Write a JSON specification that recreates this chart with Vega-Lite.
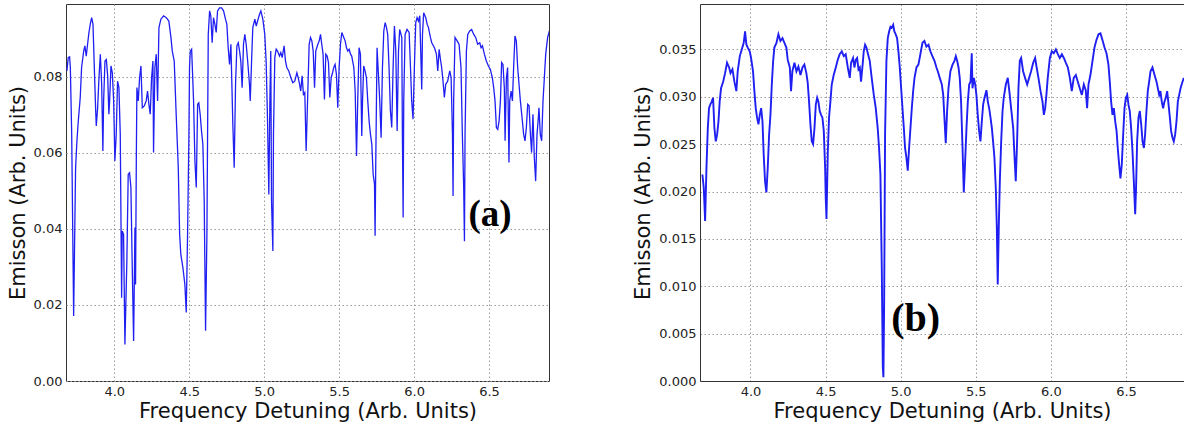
{
  "$schema": "https://vega.github.io/schema/vega-lite/v6.json",
  "background": "white",
  "padding": {"left": 6, "top": 3, "right": 0, "bottom": 0},
  "spacing": 82,
  "config": {
    "view": {"stroke": "#333", "strokeWidth": 1},
    "axis": {"labelFont": "DejaVu Sans", "labelFontSize": 13, "labelColor": "#222", "titleFont": "DejaVu Sans", "titleFontSize": 21, "titleFontWeight": "normal", "titleColor": "#111", "tickSize": 0, "labelPadding": 4, "grid": true, "gridColor": "#9a9a9a", "gridDash": [1.5, 2.5], "gridWidth": 1, "domain": false},
    "axisX": {"titlePadding": 2},
    "axisY": {"titlePadding": 5}
  },
  "datasets": {
    "a": [
{"f":3.684,"e":0.0816},{"f":3.693,"e":0.0851},{"f":3.702,"e":0.0853},{"f":3.707,"e":0.0825},{"f":3.716,"e":0.0649},{"f":3.729,"e":0.0171},{"f":3.742,"e":0.0561},{"f":3.751,"e":0.0632},{"f":3.760,"e":0.0684},{"f":3.773,"e":0.0746},{"f":3.782,"e":0.0825},{"f":3.796,"e":0.0868},{"f":3.804,"e":0.0882},{"f":3.813,"e":0.0855},{"f":3.822,"e":0.0886},{"f":3.831,"e":0.0917},{"f":3.840,"e":0.0939},{"f":3.849,"e":0.0956},{"f":3.858,"e":0.0939},{"f":3.867,"e":0.0825},{"f":3.876,"e":0.0711},{"f":3.880,"e":0.0671},{"f":3.889,"e":0.0719},{"f":3.898,"e":0.0798},{"f":3.907,"e":0.0860},{"f":3.916,"e":0.0781},{"f":3.924,"e":0.0605},{"f":3.929,"e":0.0737},{"f":3.938,"e":0.0842},{"f":3.947,"e":0.0846},{"f":3.956,"e":0.0803},{"f":3.964,"e":0.0702},{"f":3.969,"e":0.0737},{"f":3.978,"e":0.0829},{"f":3.987,"e":0.0811},{"f":3.996,"e":0.0737},{"f":4.004,"e":0.0579},{"f":4.013,"e":0.0649},{"f":4.022,"e":0.0789},{"f":4.031,"e":0.0772},{"f":4.040,"e":0.0649},{"f":4.049,"e":0.0219},{"f":4.053,"e":0.0395},{"f":4.062,"e":0.0386},{"f":4.071,"e":0.0096},{"f":4.084,"e":0.0316},{"f":4.093,"e":0.0544},{"f":4.102,"e":0.0548},{"f":4.111,"e":0.0509},{"f":4.120,"e":0.0298},{"f":4.129,"e":0.0105},{"f":4.138,"e":0.0404},{"f":4.142,"e":0.0254},{"f":4.147,"e":0.0579},{"f":4.151,"e":0.0772},{"f":4.160,"e":0.0737},{"f":4.169,"e":0.0798},{"f":4.178,"e":0.0829},{"f":4.187,"e":0.0719},{"f":4.200,"e":0.0724},{"f":4.213,"e":0.0737},{"f":4.222,"e":0.0763},{"f":4.231,"e":0.0728},{"f":4.240,"e":0.0702},{"f":4.249,"e":0.0798},{"f":4.258,"e":0.0842},{"f":4.262,"e":0.0601},{"f":4.271,"e":0.0825},{"f":4.280,"e":0.0860},{"f":4.289,"e":0.0737},{"f":4.298,"e":0.0930},{"f":4.311,"e":0.0952},{"f":4.329,"e":0.0961},{"f":4.347,"e":0.0956},{"f":4.364,"e":0.0947},{"f":4.378,"e":0.0904},{"f":4.387,"e":0.0868},{"f":4.400,"e":0.0842},{"f":4.413,"e":0.0702},{"f":4.427,"e":0.0561},{"f":4.436,"e":0.0386},{"f":4.444,"e":0.0333},{"f":4.458,"e":0.0298},{"f":4.471,"e":0.0254},{"f":4.480,"e":0.0180},{"f":4.489,"e":0.0386},{"f":4.498,"e":0.0649},{"f":4.502,"e":0.0825},{"f":4.507,"e":0.0868},{"f":4.516,"e":0.0873},{"f":4.520,"e":0.0833},{"f":4.529,"e":0.0737},{"f":4.538,"e":0.0579},{"f":4.547,"e":0.0509},{"f":4.556,"e":0.0728},{"f":4.564,"e":0.0732},{"f":4.573,"e":0.0702},{"f":4.582,"e":0.0658},{"f":4.591,"e":0.0623},{"f":4.600,"e":0.0474},{"f":4.609,"e":0.0132},{"f":4.618,"e":0.0386},{"f":4.627,"e":0.0912},{"f":4.636,"e":0.0974},{"f":4.644,"e":0.0961},{"f":4.653,"e":0.0890},{"f":4.662,"e":0.0956},{"f":4.671,"e":0.0939},{"f":4.680,"e":0.0917},{"f":4.689,"e":0.0974},{"f":4.702,"e":0.0982},{"f":4.716,"e":0.0982},{"f":4.729,"e":0.0974},{"f":4.742,"e":0.0952},{"f":4.751,"e":0.0939},{"f":4.760,"e":0.0877},{"f":4.769,"e":0.0833},{"f":4.778,"e":0.0886},{"f":4.791,"e":0.0675},{"f":4.800,"e":0.0561},{"f":4.809,"e":0.0781},{"f":4.818,"e":0.0882},{"f":4.827,"e":0.0890},{"f":4.836,"e":0.0868},{"f":4.844,"e":0.0842},{"f":4.853,"e":0.0772},{"f":4.862,"e":0.0886},{"f":4.871,"e":0.0912},{"f":4.880,"e":0.0886},{"f":4.889,"e":0.0846},{"f":4.902,"e":0.0781},{"f":4.907,"e":0.0737},{"f":4.916,"e":0.0842},{"f":4.924,"e":0.0930},{"f":4.938,"e":0.0952},{"f":4.947,"e":0.0934},{"f":4.956,"e":0.0947},{"f":4.969,"e":0.0965},{"f":4.978,"e":0.0974},{"f":4.991,"e":0.0952},{"f":5.004,"e":0.0912},{"f":5.013,"e":0.0842},{"f":5.022,"e":0.0693},{"f":5.031,"e":0.0491},{"f":5.038,"e":0.0737},{"f":5.044,"e":0.0868},{"f":5.049,"e":0.0474},{"f":5.058,"e":0.0342},{"f":5.062,"e":0.0649},{"f":5.071,"e":0.0851},{"f":5.080,"e":0.0873},{"f":5.089,"e":0.0868},{"f":5.102,"e":0.0855},{"f":5.111,"e":0.0864},{"f":5.120,"e":0.0851},{"f":5.133,"e":0.0882},{"f":5.142,"e":0.0842},{"f":5.151,"e":0.0825},{"f":5.164,"e":0.0816},{"f":5.178,"e":0.0798},{"f":5.191,"e":0.0785},{"f":5.204,"e":0.0789},{"f":5.218,"e":0.0811},{"f":5.227,"e":0.0798},{"f":5.236,"e":0.0781},{"f":5.244,"e":0.0763},{"f":5.253,"e":0.0803},{"f":5.262,"e":0.0754},{"f":5.271,"e":0.0759},{"f":5.280,"e":0.0605},
{"f":5.300,"e":0.0886},{"f":5.309,"e":0.0904},{"f":5.318,"e":0.0895},{"f":5.327,"e":0.0868},{"f":5.336,"e":0.0772},{"f":5.344,"e":0.0868},{"f":5.358,"e":0.0886},{"f":5.367,"e":0.0895},{"f":5.376,"e":0.0912},{"f":5.384,"e":0.0886},{"f":5.393,"e":0.0860},{"f":5.402,"e":0.0741},{"f":5.411,"e":0.0860},{"f":5.420,"e":0.0855},{"f":5.429,"e":0.0838},{"f":5.438,"e":0.0746},{"f":5.447,"e":0.0798},{"f":5.456,"e":0.0811},{"f":5.464,"e":0.0825},{"f":5.473,"e":0.0833},{"f":5.482,"e":0.0807},{"f":5.491,"e":0.0719},{"f":5.500,"e":0.0825},{"f":5.509,"e":0.0886},{"f":5.518,"e":0.0917},{"f":5.531,"e":0.0904},{"f":5.540,"e":0.0895},{"f":5.549,"e":0.0877},{"f":5.558,"e":0.0868},{"f":5.567,"e":0.0873},{"f":5.576,"e":0.0860},{"f":5.584,"e":0.0855},{"f":5.598,"e":0.0825},{"f":5.607,"e":0.0763},{"f":5.616,"e":0.0592},{"f":5.624,"e":0.0737},{"f":5.633,"e":0.0877},{"f":5.642,"e":0.0860},{"f":5.651,"e":0.0645},{"f":5.656,"e":0.0737},{"f":5.664,"e":0.0829},{"f":5.673,"e":0.0816},{"f":5.682,"e":0.0798},{"f":5.691,"e":0.0737},{"f":5.700,"e":0.0684},{"f":5.709,"e":0.0649},{"f":5.718,"e":0.0623},{"f":5.727,"e":0.0544},{"f":5.736,"e":0.0518},{"f":5.740,"e":0.0382},{"f":5.744,"e":0.0561},{"f":5.753,"e":0.0877},{"f":5.762,"e":0.0807},{"f":5.771,"e":0.0737},{"f":5.780,"e":0.0640},{"f":5.789,"e":0.0825},{"f":5.798,"e":0.0921},{"f":5.807,"e":0.0943},{"f":5.816,"e":0.0930},{"f":5.824,"e":0.0912},{"f":5.833,"e":0.0825},{"f":5.842,"e":0.0711},{"f":5.851,"e":0.0667},{"f":5.860,"e":0.0825},{"f":5.869,"e":0.0934},{"f":5.878,"e":0.0868},{"f":5.887,"e":0.0658},{"f":5.896,"e":0.0868},{"f":5.904,"e":0.0925},{"f":5.918,"e":0.0904},{"f":5.922,"e":0.0649},{"f":5.927,"e":0.0430},{"f":5.931,"e":0.0737},{"f":5.940,"e":0.0912},{"f":5.953,"e":0.0925},{"f":5.967,"e":0.0917},{"f":5.976,"e":0.0825},{"f":5.984,"e":0.0737},{"f":5.993,"e":0.0689},{"f":6.002,"e":0.0825},{"f":6.011,"e":0.0943},{"f":6.020,"e":0.0956},{"f":6.029,"e":0.0947},{"f":6.038,"e":0.0961},{"f":6.051,"e":0.0767},{"f":6.056,"e":0.0912},{"f":6.064,"e":0.0969},{"f":6.078,"e":0.0956},{"f":6.087,"e":0.0939},{"f":6.096,"e":0.0930},{"f":6.109,"e":0.0904},{"f":6.118,"e":0.0890},{"f":6.136,"e":0.0877},{"f":6.149,"e":0.0860},{"f":6.158,"e":0.0816},{"f":6.167,"e":0.0873},{"f":6.176,"e":0.0846},{"f":6.184,"e":0.0825},{"f":6.193,"e":0.0789},{"f":6.202,"e":0.0746},{"f":6.211,"e":0.0781},{"f":6.224,"e":0.0789},{"f":6.238,"e":0.0816},{"f":6.247,"e":0.0798},{"f":6.256,"e":0.0649},{"f":6.260,"e":0.0487},{"f":6.264,"e":0.0737},{"f":6.273,"e":0.0904},{"f":6.287,"e":0.0895},{"f":6.300,"e":0.0886},{"f":6.313,"e":0.0825},{"f":6.322,"e":0.0649},{"f":6.331,"e":0.0509},{"f":6.336,"e":0.0368},{"f":6.340,"e":0.0649},{"f":6.349,"e":0.0868},{"f":6.358,"e":0.0912},{"f":6.371,"e":0.0921},{"f":6.384,"e":0.0925},{"f":6.398,"e":0.0912},{"f":6.411,"e":0.0904},{"f":6.424,"e":0.0886},{"f":6.438,"e":0.0890},{"f":6.447,"e":0.0877},{"f":6.456,"e":0.0882},{"f":6.469,"e":0.0860},{"f":6.482,"e":0.0842},{"f":6.496,"e":0.0829},{"f":6.509,"e":0.0820},{"f":6.522,"e":0.0798},{"f":6.531,"e":0.0772},{"f":6.540,"e":0.0737},{"f":6.549,"e":0.0667},{"f":6.558,"e":0.0662},{"f":6.567,"e":0.0684},{"f":6.576,"e":0.0737},{"f":6.584,"e":0.0838},{"f":6.593,"e":0.0833},{"f":6.602,"e":0.0772},{"f":6.607,"e":0.0632},{"f":6.616,"e":0.0798},{"f":6.624,"e":0.0825},{"f":6.633,"e":0.0575},{"f":6.638,"e":0.0737},{"f":6.647,"e":0.0763},{"f":6.656,"e":0.0737},{"f":6.664,"e":0.0825},{"f":6.673,"e":0.0908},{"f":6.682,"e":0.0895},{"f":6.691,"e":0.0825},{"f":6.700,"e":0.0781},{"f":6.709,"e":0.0737},{"f":6.718,"e":0.0702},{"f":6.731,"e":0.0649},{"f":6.740,"e":0.0632},{"f":6.749,"e":0.0667},{"f":6.758,"e":0.0728},{"f":6.767,"e":0.0724},{"f":6.776,"e":0.0649},{"f":6.784,"e":0.0601},{"f":6.793,"e":0.0702},{"f":6.802,"e":0.0588},{"f":6.811,"e":0.0526},{"f":6.820,"e":0.0649},{"f":6.829,"e":0.0693},{"f":6.833,"e":0.0719},{"f":6.842,"e":0.0649},{"f":6.851,"e":0.0632},{"f":6.860,"e":0.0737},{"f":6.869,"e":0.0798},{"f":6.878,"e":0.0860},{"f":6.891,"e":0.0904},{"f":6.909,"e":0.0930}
    ],
    "b": [
{"f":3.680,"e":0.0218},{"f":3.689,"e":0.0204},{"f":3.698,"e":0.0169},{"f":3.707,"e":0.0225},{"f":3.716,"e":0.0267},{"f":3.724,"e":0.0288},{"f":3.733,"e":0.0292},{"f":3.742,"e":0.0295},{"f":3.751,"e":0.0299},{"f":3.760,"e":0.0267},{"f":3.769,"e":0.0253},{"f":3.778,"e":0.0260},{"f":3.787,"e":0.0274},{"f":3.795,"e":0.0295},{"f":3.804,"e":0.0309},{"f":3.818,"e":0.0316},{"f":3.831,"e":0.0325},{"f":3.844,"e":0.0336},{"f":3.858,"e":0.0331},{"f":3.867,"e":0.0325},{"f":3.880,"e":0.0329},{"f":3.893,"e":0.0316},{"f":3.906,"e":0.0306},{"f":3.915,"e":0.0327},{"f":3.929,"e":0.0343},{"f":3.942,"e":0.0350},{"f":3.955,"e":0.0357},{"f":3.964,"e":0.0369},{"f":3.973,"e":0.0355},{"f":3.982,"e":0.0352},{"f":3.995,"e":0.0348},{"f":4.004,"e":0.0341},{"f":4.017,"e":0.0327},{"f":4.026,"e":0.0306},{"f":4.035,"e":0.0288},{"f":4.044,"e":0.0278},{"f":4.053,"e":0.0271},{"f":4.062,"e":0.0281},{"f":4.071,"e":0.0288},{"f":4.080,"e":0.0274},{"f":4.088,"e":0.0239},{"f":4.097,"e":0.0211},{"f":4.106,"e":0.0199},{"f":4.115,"e":0.0225},{"f":4.124,"e":0.0260},{"f":4.133,"e":0.0281},{"f":4.142,"e":0.0313},{"f":4.151,"e":0.0338},{"f":4.159,"e":0.0352},{"f":4.173,"e":0.0357},{"f":4.186,"e":0.0366},{"f":4.199,"e":0.0359},{"f":4.213,"e":0.0362},{"f":4.226,"e":0.0357},{"f":4.239,"e":0.0352},{"f":4.248,"e":0.0339},{"f":4.262,"e":0.0331},{"f":4.270,"e":0.0306},{"f":4.279,"e":0.0327},{"f":4.293,"e":0.0336},{"f":4.306,"e":0.0327},{"f":4.319,"e":0.0332},{"f":4.333,"e":0.0323},{"f":4.346,"e":0.0331},{"f":4.359,"e":0.0334},{"f":4.372,"e":0.0325},{"f":4.381,"e":0.0315},{"f":4.390,"e":0.0295},{"f":4.399,"e":0.0271},{"f":4.408,"e":0.0253},{"f":4.417,"e":0.0250},{"f":4.426,"e":0.0267},{"f":4.435,"e":0.0292},{"f":4.444,"e":0.0299},{"f":4.452,"e":0.0295},{"f":4.461,"e":0.0285},{"f":4.470,"e":0.0281},{"f":4.479,"e":0.0278},{"f":4.488,"e":0.0264},{"f":4.497,"e":0.0225},{"f":4.501,"e":0.0193},{"f":4.506,"e":0.0171},{"f":4.515,"e":0.0243},{"f":4.523,"e":0.0278},{"f":4.532,"e":0.0295},{"f":4.541,"e":0.0313},{"f":4.554,"e":0.0323},{"f":4.568,"e":0.0331},{"f":4.581,"e":0.0339},{"f":4.594,"e":0.0345},{"f":4.608,"e":0.0348},{"f":4.621,"e":0.0343},{"f":4.634,"e":0.0345},{"f":4.648,"e":0.0331},{"f":4.661,"e":0.0320},{"f":4.670,"e":0.0336},{"f":4.683,"e":0.0341},{"f":4.692,"e":0.0331},{"f":4.701,"e":0.0339},{"f":4.710,"e":0.0341},{"f":4.719,"e":0.0329},{"f":4.728,"e":0.0331},{"f":4.736,"e":0.0316},{"f":4.745,"e":0.0331},{"f":4.754,"e":0.0348},{"f":4.763,"e":0.0355},{"f":4.772,"e":0.0352},{"f":4.781,"e":0.0346},{"f":4.794,"e":0.0338},{"f":4.807,"e":0.0320},{"f":4.821,"e":0.0302},{"f":4.834,"e":0.0288},{"f":4.847,"e":0.0267},{"f":4.856,"e":0.0246},{"f":4.865,"e":0.0218},{"f":4.874,"e":0.0120},{"f":4.881,"e":0.0014},{"f":4.885,"e":0.0004},{"f":4.890,"e":0.0084},{"f":4.896,"e":0.0260},{"f":4.905,"e":0.0338},{"f":4.914,"e":0.0362},{"f":4.923,"e":0.0369},{"f":4.932,"e":0.0374},{"f":4.941,"e":0.0373},{"f":4.950,"e":0.0376},{"f":4.958,"e":0.0369},{"f":4.967,"e":0.0366},{"f":4.976,"e":0.0362},{"f":4.985,"e":0.0348},{"f":4.994,"e":0.0331},{"f":5.003,"e":0.0309},{"f":5.012,"e":0.0288},{"f":5.021,"e":0.0267},{"f":5.029,"e":0.0246},{"f":5.038,"e":0.0236},{"f":5.047,"e":0.0222},{"f":5.056,"e":0.0246},{"f":5.065,"e":0.0267},{"f":5.074,"e":0.0288},{"f":5.083,"e":0.0306},{"f":5.092,"e":0.0320},{"f":5.105,"e":0.0331},{"f":5.118,"e":0.0334},{"f":5.131,"e":0.0345},{"f":5.145,"e":0.0357},{"f":5.158,"e":0.0359},{"f":5.171,"e":0.0353},{"f":5.185,"e":0.0355},{"f":5.198,"e":0.0348},{"f":5.211,"e":0.0343},{"f":5.225,"e":0.0338},{"f":5.238,"e":0.0331},
{"f":5.247,"e":0.0327},{"f":5.260,"e":0.0320},{"f":5.274,"e":0.0313},{"f":5.283,"e":0.0302},{"f":5.291,"e":0.0278},{"f":5.300,"e":0.0251},{"f":5.309,"e":0.0285},{"f":5.318,"e":0.0309},{"f":5.331,"e":0.0327},{"f":5.345,"e":0.0334},{"f":5.358,"e":0.0338},{"f":5.367,"e":0.0343},{"f":5.376,"e":0.0338},{"f":5.385,"e":0.0331},{"f":5.393,"e":0.0320},{"f":5.402,"e":0.0295},{"f":5.411,"e":0.0250},{"f":5.420,"e":0.0199},{"f":5.429,"e":0.0232},{"f":5.438,"e":0.0267},{"f":5.447,"e":0.0295},{"f":5.456,"e":0.0313},{"f":5.465,"e":0.0316},{"f":5.473,"e":0.0346},{"f":5.478,"e":0.0309},{"f":5.487,"e":0.0320},{"f":5.496,"e":0.0313},{"f":5.504,"e":0.0302},{"f":5.513,"e":0.0281},{"f":5.522,"e":0.0264},{"f":5.531,"e":0.0253},{"f":5.540,"e":0.0274},{"f":5.549,"e":0.0292},{"f":5.558,"e":0.0299},{"f":5.571,"e":0.0307},{"f":5.580,"e":0.0295},{"f":5.589,"e":0.0288},{"f":5.598,"e":0.0278},{"f":5.607,"e":0.0267},{"f":5.615,"e":0.0253},{"f":5.624,"e":0.0236},{"f":5.633,"e":0.0204},{"f":5.640,"e":0.0162},{"f":5.646,"e":0.0102},{"f":5.653,"e":0.0162},{"f":5.660,"e":0.0211},{"f":5.669,"e":0.0253},{"f":5.678,"e":0.0285},{"f":5.686,"e":0.0299},{"f":5.700,"e":0.0313},{"f":5.713,"e":0.0320},{"f":5.726,"e":0.0302},{"f":5.735,"e":0.0288},{"f":5.749,"e":0.0267},{"f":5.757,"e":0.0239},{"f":5.766,"e":0.0211},{"f":5.775,"e":0.0253},{"f":5.784,"e":0.0309},{"f":5.793,"e":0.0338},{"f":5.802,"e":0.0341},{"f":5.815,"e":0.0327},{"f":5.828,"e":0.0320},{"f":5.842,"e":0.0313},{"f":5.855,"e":0.0320},{"f":5.868,"e":0.0327},{"f":5.882,"e":0.0336},{"f":5.895,"e":0.0341},{"f":5.904,"e":0.0332},{"f":5.917,"e":0.0320},{"f":5.931,"e":0.0306},{"f":5.944,"e":0.0295},{"f":5.953,"e":0.0281},{"f":5.962,"e":0.0288},{"f":5.970,"e":0.0302},{"f":5.979,"e":0.0320},{"f":5.993,"e":0.0341},{"f":6.006,"e":0.0348},{"f":6.019,"e":0.0346},{"f":6.033,"e":0.0350},{"f":6.046,"e":0.0345},{"f":6.059,"e":0.0341},{"f":6.073,"e":0.0345},{"f":6.086,"e":0.0341},{"f":6.099,"e":0.0336},{"f":6.113,"e":0.0331},{"f":6.126,"e":0.0320},{"f":6.139,"e":0.0306},{"f":6.152,"e":0.0320},{"f":6.166,"e":0.0323},{"f":6.179,"e":0.0316},{"f":6.192,"e":0.0309},{"f":6.206,"e":0.0302},{"f":6.219,"e":0.0313},{"f":6.232,"e":0.0307},{"f":6.241,"e":0.0288},{"f":6.250,"e":0.0313},{"f":6.263,"e":0.0323},{"f":6.277,"e":0.0338},{"f":6.290,"e":0.0352},{"f":6.303,"e":0.0360},{"f":6.317,"e":0.0366},{"f":6.330,"e":0.0367},{"f":6.343,"e":0.0360},{"f":6.357,"e":0.0352},{"f":6.370,"e":0.0346},{"f":6.383,"e":0.0334},{"f":6.392,"e":0.0316},{"f":6.401,"e":0.0295},{"f":6.410,"e":0.0281},{"f":6.419,"e":0.0288},{"f":6.428,"e":0.0274},{"f":6.437,"e":0.0264},{"f":6.445,"e":0.0246},{"f":6.454,"e":0.0229},{"f":6.463,"e":0.0214},{"f":6.472,"e":0.0229},{"f":6.481,"e":0.0260},{"f":6.490,"e":0.0288},{"f":6.499,"e":0.0299},{"f":6.508,"e":0.0302},{"f":6.516,"e":0.0292},{"f":6.525,"e":0.0285},{"f":6.534,"e":0.0267},{"f":6.543,"e":0.0243},{"f":6.552,"e":0.0211},{"f":6.561,"e":0.0176},{"f":6.567,"e":0.0204},{"f":6.574,"e":0.0253},{"f":6.583,"e":0.0278},{"f":6.592,"e":0.0285},{"f":6.601,"e":0.0271},{"f":6.610,"e":0.0253},{"f":6.619,"e":0.0246},{"f":6.627,"e":0.0260},{"f":6.636,"e":0.0285},{"f":6.645,"e":0.0306},{"f":6.654,"e":0.0316},{"f":6.663,"e":0.0327},{"f":6.676,"e":0.0331},{"f":6.690,"e":0.0323},{"f":6.703,"e":0.0316},{"f":6.712,"e":0.0309},{"f":6.721,"e":0.0302},{"f":6.729,"e":0.0306},{"f":6.738,"e":0.0295},{"f":6.747,"e":0.0288},{"f":6.756,"e":0.0295},{"f":6.765,"e":0.0299},{"f":6.774,"e":0.0306},{"f":6.783,"e":0.0292},{"f":6.792,"e":0.0278},{"f":6.800,"e":0.0264},{"f":6.809,"e":0.0257},{"f":6.818,"e":0.0253},{"f":6.827,"e":0.0260},{"f":6.836,"e":0.0274},{"f":6.845,"e":0.0295},{"f":6.854,"e":0.0302},{"f":6.863,"e":0.0309},{"f":6.876,"e":0.0316},{"f":6.885,"e":0.0320}
    ],
    "la": [{"f": 6.507, "e": 0.0437, "t": "(a)"}],
    "lb": [{"f": 5.10, "e": 0.00654, "t": "(b)"}]
  },
  "hconcat": [
    {
      "width": 483,
      "height": 377,
      "layer": [
        {
          "data": {"name": "a"},
          "mark": {"type": "line", "color": "#1f1ff2", "strokeWidth": 1.3, "clip": true, "interpolate": "linear"},
          "encoding": {
            "x": {"field": "f", "type": "quantitative", "scale": {"domain": [3.678, 6.9], "nice": false, "zero": false}, "axis": {"values": [4.0, 4.5, 5.0, 5.5, 6.0, 6.5], "format": ".1f", "title": "Frequency Detuning (Arb. Units)"}},
            "y": {"field": "e", "type": "quantitative", "scale": {"domain": [0, 0.0992], "nice": false}, "axis": {"values": [0, 0.02, 0.04, 0.06, 0.08], "format": ".2f", "title": "Emisson (Arb. Units)"}}
          }
        },
        {
          "data": {"name": "la"},
          "mark": {"type": "text", "font": "Liberation Serif", "fontWeight": "bold", "fontSize": 37, "color": "#000", "align": "center", "baseline": "middle"},
          "encoding": {
            "x": {"field": "f", "type": "quantitative"},
            "y": {"field": "e", "type": "quantitative"},
            "text": {"field": "t"}
          }
        }
      ]
    },
    {
      "width": 484,
      "height": 377,
      "view": {"stroke": null},
      "resolve": {"axis": {"x": "independent"}},
      "layer": [
        {
          "data": {"name": "b"},
          "mark": {"type": "line", "color": "#1f1ff2", "strokeWidth": 1.9, "clip": true, "interpolate": "linear"},
          "encoding": {
            "x": {"field": "f", "type": "quantitative", "scale": {"domain": [3.664, 6.886], "nice": false, "zero": false}, "axis": {"values": [4.0, 4.5, 5.0, 5.5, 6.0, 6.5], "format": ".1f", "title": "Frequency Detuning (Arb. Units)", "domain": true, "domainColor": "#333"}},
            "y": {"field": "e", "type": "quantitative", "scale": {"domain": [0, 0.0398], "nice": false}, "axis": {"values": [0, 0.005, 0.01, 0.015, 0.02, 0.025, 0.03, 0.035], "format": ".3f", "title": "Emisson (Arb. Units)", "domain": true, "domainColor": "#333"}}
          }
        },
        {
          "data": {"name": "lb"},
          "mark": {"type": "text", "font": "Liberation Serif", "fontWeight": "bold", "fontSize": 40, "color": "#000", "align": "center", "baseline": "middle"},
          "encoding": {
            "x": {"field": "f", "type": "quantitative", "axis": {"orient": "top", "labels": false, "ticks": false, "grid": false, "domain": true, "domainColor": "#333", "title": null}},
            "y": {"field": "e", "type": "quantitative"},
            "text": {"field": "t"}
          }
        }
      ]
    }
  ]
}
